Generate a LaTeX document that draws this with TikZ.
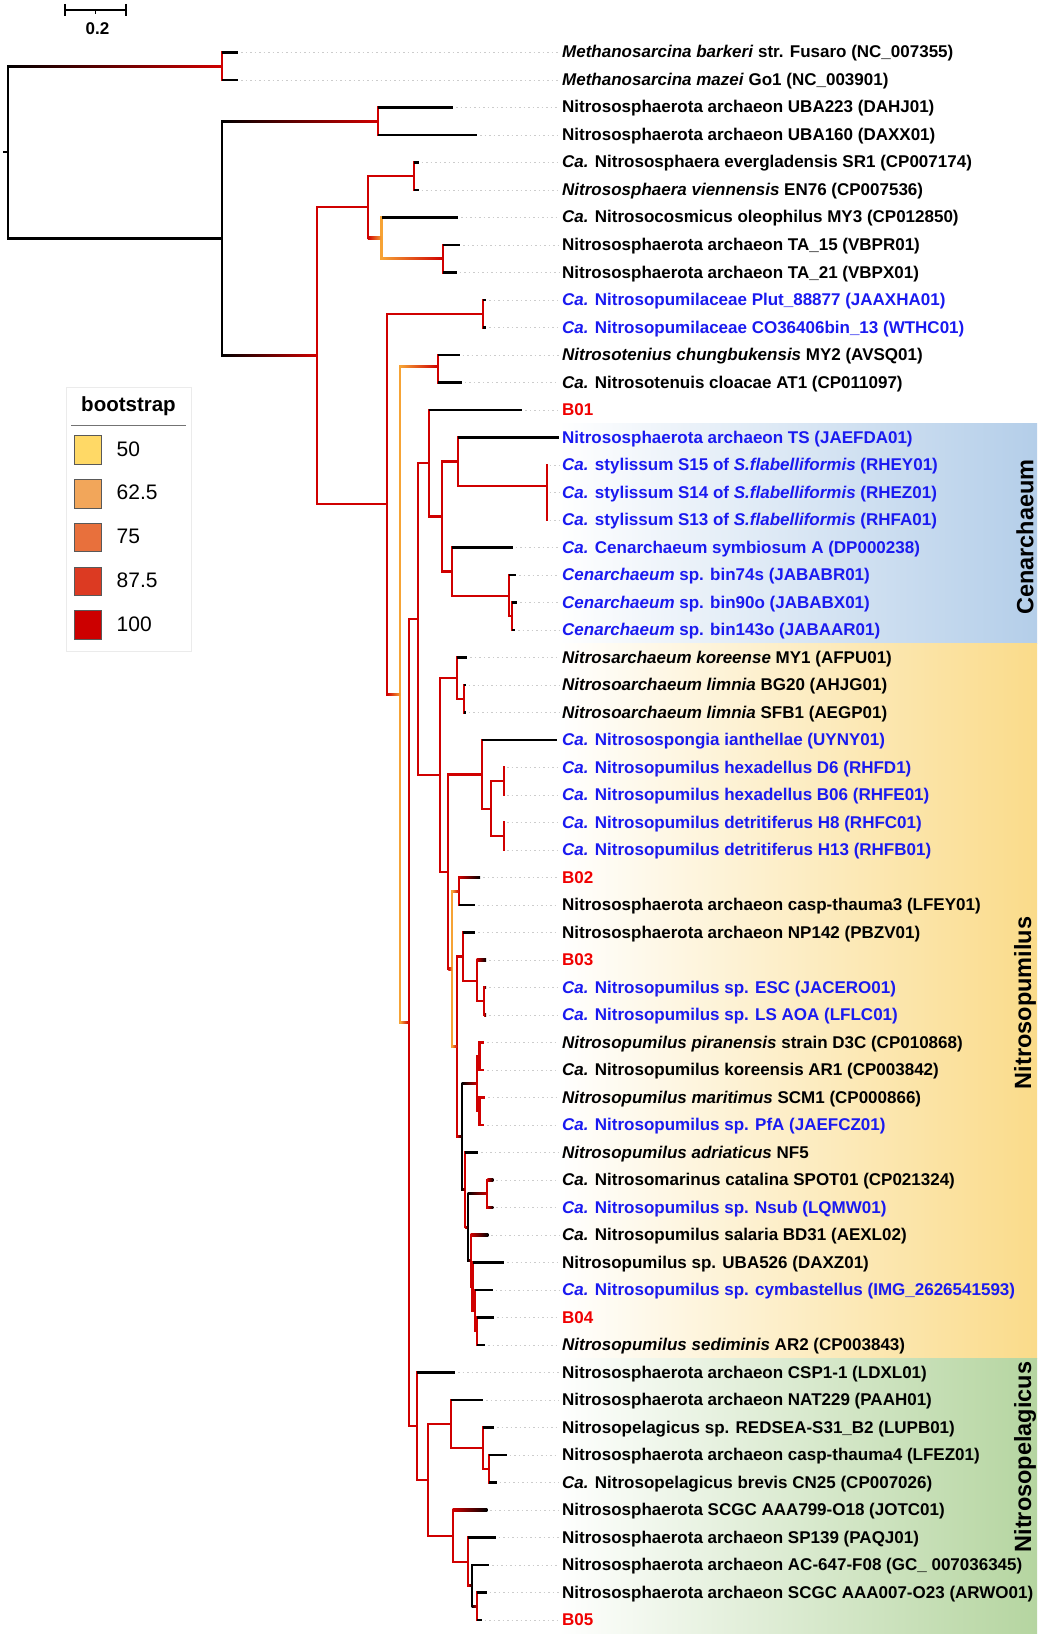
\documentclass[tikz,border=0pt]{standalone}
\usepackage{fontspec}
\setmainfont{Liberation Sans}
\usetikzlibrary{calc}
\definecolor{brred}{HTML}{D00000}
\definecolor{bror}{HTML}{F6A335}
\definecolor{lb}{HTML}{1A1AF0}
\definecolor{lr}{HTML}{F00000}
\definecolor{c50}{HTML}{FFD966}
\definecolor{c62}{HTML}{F2A65A}
\definecolor{c75}{HTML}{E8703C}
\definecolor{c87}{HTML}{DC3A22}
\definecolor{c100}{HTML}{CC0000}
\definecolor{cenR}{HTML}{B4CEE9}
\definecolor{pumR}{HTML}{FADB8A}
\definecolor{pelR}{HTML}{B5D5A0}
\newcommand\vv[4]{\draw[br,#4] (#1|-#2) -- (#1|-#3);}
\newcommand\hs[3]{\fill[#3] ($(#1|-#2)+(0,-1.1)$) rectangle ($(#2)+(0,1.1)$);}
\newcommand\hg[4]{\shade[left color=#3,right color=#4] ($(#1|-#2)+(0,-1.1)$) rectangle ($(#2)+(0,1.1)$);}
\newcommand\leaf[3]{\node[lab,text=#2] (L#1) at (t#1 -| xlab) {#3};}
\begin{document}
\begin{tikzpicture}[x=1pt,y=-1pt,
  br/.style={line width=2.2pt,line cap=rect},
  lab/.style={font=\bfseries\fontsize{17}{20}\selectfont,inner sep=0pt,anchor=west,text height=12.4pt,text depth=3.6pt,yshift=-1.1pt},
  guide/.style={black!20,line width=0.9pt,dash pattern=on 1.5pt off 3pt},
  swatch/.style={draw=black!65,line width=0.8pt,minimum width=27.5pt,minimum height=28.5pt,inner sep=0pt},
  leglab/.style={font=\fontsize{21}{24}\selectfont,anchor=west,inner sep=0pt},
  cladelab/.style={rotate=90,font=\bfseries\fontsize{23.5}{27}\selectfont,inner sep=0pt}]
\useasboundingbox (0,0) rectangle (1040,1637);
\fill[white] (0,0) rectangle (1040,1637);

% clade highlights
\shade[left color=white,right color=cenR] (558,423.75) rectangle (1037,643.75);
\shade[left color=white,right color=pumR] (558,643.75) rectangle (1037,1358.75);
\shade[left color=white,right color=pelR] (558,1358.75) rectangle (1037,1633.75);
\node[cladelab] (cCen) at (1025,537) {Cenarchaeum};
\node[cladelab] (cPum) at (1025,1003) {Nitrosopumilus};
\node[cladelab] (cPel) at (1025,1457) {Nitrosopelagicus};

% coordinates
\coordinate (xlab) at (562,0);
\coordinate (gx) at (559,0);
\foreach \i/\x in {1/238,2/238,3/453,4/477,5/418.5,6/418.5,7/458,8/460,9/456.7,10/486.3,
  11/486.3,12/459.5,13/461.9,14/522.3,15/559.3,16/546.7,17/546.7,18/546.7,19/512.7,20/516,
  21/517.3,22/515,23/467.3,24/465.5,25/465.5,26/556.7,27/504,28/504,29/504,30/504,
  31/480,32/475,33/475,34/486,35/486,36/486,37/484,38/484.3,39/485,40/484,
  41/478,42/493.3,43/493.3,44/488.3,45/504,46/492.7,47/494,48/485,49/455,50/483.3,
  51/494,52/506.7,53/496.7,54/487.3,55/495.7,56/489,57/486.7,58/481.7}
  {\coordinate (t\i) at (\x,{52.5+(\i-1)*27.5});}
\coordinate (R0) at (3,152.35);
\coordinate (R) at (8.1,152.35);
\coordinate (MS) at (222,66.25);
\coordinate (B) at (222,238.45);
\coordinate (UBA) at (378,121.25);
\coordinate (M1) at (316.7,355.65);
\coordinate (NS) at (367.8,207.2);
\coordinate (EV) at (413.7,176.25);
\coordinate (OL) at (381.5,238.1);
\coordinate (TA) at (443.3,258.75);
\coordinate (NP) at (387,504.1);
\coordinate (PL) at (483.3,313.75);
\coordinate (N2) at (400.3,694.45);
\coordinate (TE) at (438,366.25);
\coordinate (N3) at (408.7,1022.65);
\coordinate (N4) at (417.7,619.1);
\coordinate (N5) at (429.3,463.28);
\coordinate (N6) at (442.3,516.56);
\coordinate (N7) at (458.3,461.56);
\coordinate (S) at (546.7,485.6);
\coordinate (N8) at (451.7,571.56);
\coordinate (N9) at (509,595.6);
\coordinate (N9b) at (512.3,616.25);
\coordinate (N10) at (440,774.9);
\coordinate (N11) at (457.3,678.1);
\coordinate (LI) at (464.3,698.75);
\coordinate (N12) at (448.3,871.7);
\coordinate (N13) at (481.7,774.4);
\coordinate (HD) at (491,808.75);
\coordinate (HA) at (504,781.25);
\coordinate (HB) at (504,836.25);
\coordinate (N14) at (452,968.97);
\coordinate (BB) at (459,891.25);
\coordinate (N15) at (457.3,1046.7);
\coordinate (N16) at (463,956.56);
\coordinate (N17) at (476.7,980.6);
\coordinate (EL) at (484,1001.25);
\coordinate (N18) at (461.7,1136.8);
\coordinate (N19) at (476.7,1083.75);
\coordinate (K1) at (479.5,1056.25);
\coordinate (K2) at (479.5,1111.25);
\coordinate (P1) at (465,1189.88);
\coordinate (P2) at (467.7,1227.27);
\coordinate (CN) at (487.3,1193.75);
\coordinate (P3) at (470.7,1260.78);
\coordinate (P3b) at (472.5,1286.56);
\coordinate (P4) at (475,1310.63);
\coordinate (P5) at (477.3,1331.25);
\coordinate (NPel) at (417.3,1426.2);
\coordinate (Q1) at (428.3,1479.9);
\coordinate (Q2) at (451,1424.06);
\coordinate (Q3) at (483.3,1448.1);
\coordinate (Q4) at (489,1468.75);
\coordinate (Q5) at (452.7,1535.8);
\coordinate (Q6) at (468.3,1561.6);
\coordinate (Q7) at (471.7,1585.6);
\coordinate (Q8) at (476.7,1606.25);

% dotted guides
\foreach \i in {1,...,14,16,17,...,25,27,28,...,58}
  {\draw[guide] ([xshift=3pt]t\i) -- (t\i -| gx);}

% vertical segments
\vv{R}{MS}{B}{black}
\vv{MS}{t1}{t2}{brred}
\vv{B}{UBA}{M1}{black}
\vv{UBA}{t3}{t4}{brred}
\vv{M1}{NS}{NP}{brred}
\vv{NS}{EV}{OL}{brred}
\vv{EV}{t5}{t6}{brred}
\vv{OL}{t7}{TA}{bror}
\vv{TA}{t8}{t9}{brred}
\vv{NP}{PL}{N2}{brred}
\vv{PL}{t10}{t11}{brred}
\vv{N2}{TE}{N3}{bror}
\vv{TE}{t12}{t13}{brred}
\vv{N3}{N4}{NPel}{brred}
\vv{N4}{N5}{N10}{brred}
\vv{N5}{t14}{N6}{brred}
\vv{N6}{N7}{N8}{brred}
\vv{N7}{t15}{S}{brred}
\vv{S}{t16}{t18}{brred}
\vv{N8}{t19}{N9}{brred}
\vv{N9}{t20}{N9b}{brred}
\vv{N9b}{t21}{t22}{brred}
\vv{N10}{N11}{N12}{brred}
\vv{N11}{t23}{LI}{brred}
\vv{LI}{t24}{t25}{brred}
\vv{N12}{N13}{N14}{brred}
\vv{N13}{t26}{HD}{brred}
\vv{HD}{HA}{HB}{brred}
\vv{HA}{t27}{t28}{brred}
\vv{HB}{t29}{t30}{brred}
\vv{N14}{BB}{N15}{bror}
\vv{BB}{t31}{t32}{brred}
\vv{N15}{N16}{N18}{brred}
\vv{N16}{t33}{N17}{brred}
\vv{N17}{t34}{EL}{brred}
\vv{EL}{t35}{t36}{brred}
\vv{N18}{N19}{P1}{black}
\vv{N19}{K1}{K2}{brred}
\vv{K1}{t37}{t38}{brred}
\vv{K2}{t39}{t40}{brred}
\vv{P1}{t41}{P2}{brred}
\vv{P2}{CN}{P3}{black}
\vv{CN}{t42}{t43}{brred}
\vv{P3}{t44}{P3b}{brred}
\vv{P3b}{t45}{P4}{brred}
\vv{P4}{t46}{P5}{brred}
\vv{P5}{t47}{t48}{brred}
\vv{NPel}{t49}{Q1}{brred}
\vv{Q1}{Q2}{Q5}{brred}
\vv{Q2}{t50}{Q3}{brred}
\vv{Q3}{t51}{Q4}{brred}
\vv{Q4}{t52}{t53}{brred}
\vv{Q5}{t54}{Q6}{brred}
\vv{Q6}{t55}{Q7}{brred}
\vv{Q7}{t56}{Q8}{black}
\vv{Q8}{t57}{t58}{brred}

% horizontal segments
\draw[line width=2.2pt] (R0) -- (R);
\hg{R}{MS}{black}{brred}
\hs{R}{B}{black}
\hg{B}{UBA}{black}{brred}
\hg{B}{M1}{black}{brred}
\hs{MS}{t1}{black} \hs{MS}{t2}{black}
\hs{UBA}{t3}{black} \hs{UBA}{t4}{black}
\hs{M1}{NS}{brred} \hs{M1}{NP}{brred}
\hs{NS}{EV}{brred} \hg{NS}{OL}{brred}{bror}
\hs{EV}{t5}{black} \hs{EV}{t6}{black}
\hs{OL}{t7}{black} \hg{OL}{TA}{bror}{brred}
\hs{TA}{t8}{black} \hs{TA}{t9}{black}
\hs{NP}{PL}{brred} \hg{NP}{N2}{brred}{bror}
\hs{PL}{t10}{black} \hs{PL}{t11}{black}
\hg{N2}{TE}{bror}{brred} \hg{N2}{N3}{bror}{brred}
\hs{TE}{t12}{black} \hs{TE}{t13}{black}
\hs{N3}{N4}{brred} \hs{N3}{NPel}{brred}
\hs{N4}{N5}{brred} \hs{N4}{N10}{brred}
\hs{N5}{t14}{black} \hs{N5}{N6}{brred}
\hs{N6}{N7}{brred} \hs{N6}{N8}{brred}
\hs{N7}{t15}{black} \hs{N7}{S}{brred}
\hs{N8}{t19}{black} \hs{N8}{N9}{brred}
\hs{N9}{t20}{black} \hs{N9}{N9b}{brred}
\hs{N9b}{t21}{black} \hs{N9b}{t22}{black}
\hs{N10}{N11}{brred} \hs{N10}{N12}{brred}
\hs{N11}{t23}{black} \hs{N11}{LI}{brred}
\hs{LI}{t24}{black} \hs{LI}{t25}{black}
\hs{N12}{N13}{brred} \hg{N12}{N14}{brred}{bror}
\hs{N13}{t26}{black} \hs{N13}{HD}{brred}
\hs{HD}{HA}{brred} \hs{HD}{HB}{brred}
\hg{N14}{BB}{bror}{brred} \hg{N14}{N15}{bror}{brred}
\hg{BB}{t31}{brred}{black} \hs{BB}{t32}{black}
\hs{N15}{N16}{brred} \hg{N15}{N18}{brred}{black}
\hs{N16}{t33}{black} \hs{N16}{N17}{brred}
\hg{N17}{t34}{brred}{black} \hs{N17}{EL}{brred}
\hg{EL}{t35}{brred}{black} \hg{EL}{t36}{brred}{black}
\hg{N18}{N19}{black}{brred} \hg{N18}{P1}{black}{brred}
\hs{N19}{K1}{brred} \hs{N19}{K2}{brred}
\hs{K1}{t37}{brred} \hs{K1}{t38}{brred}
\hs{K2}{t39}{brred} \hs{K2}{t40}{brred}
\hs{P1}{t41}{black} \hg{P1}{P2}{brred}{black}
\hg{P2}{CN}{black}{brred} \hg{P2}{P3}{black}{brred}
\hg{CN}{t42}{brred}{black} \hg{CN}{t43}{brred}{black}
\hg{P3}{t44}{brred}{black} \hs{P3}{P3b}{brred}
\hs{P3b}{t45}{black} \hs{P3b}{P4}{brred}
\hs{P4}{t46}{black} \hs{P4}{P5}{brred}
\hs{P5}{t47}{black} \hs{P5}{t48}{black}
\hs{NPel}{t49}{black} \hs{NPel}{Q1}{brred}
\hs{Q1}{Q2}{brred} \hs{Q1}{Q5}{brred}
\hs{Q2}{t50}{black} \hs{Q2}{Q3}{brred}
\hs{Q3}{t51}{black} \hs{Q3}{Q4}{brred}
\hs{Q4}{t52}{black} \hs{Q4}{t53}{black}
\hg{Q5}{t54}{brred}{black} \hs{Q5}{Q6}{brred}
\hs{Q6}{t55}{black} \hg{Q6}{Q7}{brred}{black}
\hs{Q7}{t56}{black} \hg{Q7}{Q8}{black}{brred}
\hs{Q8}{t57}{black} \hs{Q8}{t58}{black}

% leaf labels
\leaf{1}{black}{\textit{Methanosarcina barkeri} str. Fusaro (NC\_007355)}
\leaf{2}{black}{\textit{Methanosarcina mazei} Go1 (NC\_003901)}
\leaf{3}{black}{Nitrososphaerota archaeon UBA223 (DAHJ01)}
\leaf{4}{black}{Nitrososphaerota archaeon UBA160 (DAXX01)}
\leaf{5}{black}{\textit{Ca.} Nitrososphaera evergladensis SR1 (CP007174)}
\leaf{6}{black}{\textit{Nitrososphaera viennensis} EN76 (CP007536)}
\leaf{7}{black}{\textit{Ca.} Nitrosocosmicus oleophilus MY3 (CP012850)}
\leaf{8}{black}{Nitrososphaerota archaeon TA\_15 (VBPR01)}
\leaf{9}{black}{Nitrososphaerota archaeon TA\_21 (VBPX01)}
\leaf{10}{lb}{\textit{Ca.} Nitrosopumilaceae Plut\_88877 (JAAXHA01)}
\leaf{11}{lb}{\textit{Ca.} Nitrosopumilaceae CO36406bin\_13 (WTHC01)}
\leaf{12}{black}{\textit{Nitrosotenius chungbukensis} MY2 (AVSQ01)}
\leaf{13}{black}{\textit{Ca.} Nitrosotenuis cloacae AT1 (CP011097)}
\leaf{14}{lr}{B01}
\leaf{15}{lb}{Nitrososphaerota archaeon TS (JAEFDA01)}
\leaf{16}{lb}{\textit{Ca.} stylissum S15 of \textit{S.flabelliformis} (RHEY01)}
\leaf{17}{lb}{\textit{Ca.} stylissum S14 of \textit{S.flabelliformis} (RHEZ01)}
\leaf{18}{lb}{\textit{Ca.} stylissum S13 of \textit{S.flabelliformis} (RHFA01)}
\leaf{19}{lb}{\textit{Ca.} Cenarchaeum symbiosum A (DP000238)}
\leaf{20}{lb}{\textit{Cenarchaeum} sp. bin74s (JABABR01)}
\leaf{21}{lb}{\textit{Cenarchaeum} sp. bin90o (JABABX01)}
\leaf{22}{lb}{\textit{Cenarchaeum} sp. bin143o (JABAAR01)}
\leaf{23}{black}{\textit{Nitrosarchaeum koreense} MY1 (AFPU01)}
\leaf{24}{black}{\textit{Nitrosoarchaeum limnia} BG20 (AHJG01)}
\leaf{25}{black}{\textit{Nitrosoarchaeum limnia} SFB1 (AEGP01)}
\leaf{26}{lb}{\textit{Ca.} Nitrosospongia ianthellae (UYNY01)}
\leaf{27}{lb}{\textit{Ca.} Nitrosopumilus hexadellus D6 (RHFD1)}
\leaf{28}{lb}{\textit{Ca.} Nitrosopumilus hexadellus B06 (RHFE01)}
\leaf{29}{lb}{\textit{Ca.} Nitrosopumilus detritiferus H8 (RHFC01)}
\leaf{30}{lb}{\textit{Ca.} Nitrosopumilus detritiferus H13 (RHFB01)}
\leaf{31}{lr}{B02}
\leaf{32}{black}{Nitrososphaerota archaeon casp-thauma3 (LFEY01)}
\leaf{33}{black}{Nitrososphaerota archaeon NP142 (PBZV01)}
\leaf{34}{lr}{B03}
\leaf{35}{lb}{\textit{Ca.} Nitrosopumilus sp. ESC (JACERO01)}
\leaf{36}{lb}{\textit{Ca.} Nitrosopumilus sp. LS AOA (LFLC01)}
\leaf{37}{black}{\textit{Nitrosopumilus piranensis} strain D3C (CP010868)}
\leaf{38}{black}{\textit{Ca.} Nitrosopumilus koreensis AR1 (CP003842)}
\leaf{39}{black}{\textit{Nitrosopumilus maritimus} SCM1 (CP000866)}
\leaf{40}{lb}{\textit{Ca.} Nitrosopumilus sp. PfA (JAEFCZ01)}
\leaf{41}{black}{\textit{Nitrosopumilus adriaticus} NF5}
\leaf{42}{black}{\textit{Ca.} Nitrosomarinus catalina SPOT01 (CP021324)}
\leaf{43}{lb}{\textit{Ca.} Nitrosopumilus sp. Nsub (LQMW01)}
\leaf{44}{black}{\textit{Ca.} Nitrosopumilus salaria BD31 (AEXL02)}
\leaf{45}{black}{Nitrosopumilus sp. UBA526 (DAXZ01)}
\leaf{46}{lb}{\textit{Ca.} Nitrosopumilus sp. cymbastellus (IMG\_2626541593)}
\leaf{47}{lr}{B04}
\leaf{48}{black}{\textit{Nitrosopumilus sediminis} AR2 (CP003843)}
\leaf{49}{black}{Nitrososphaerota archaeon CSP1-1 (LDXL01)}
\leaf{50}{black}{Nitrososphaerota archaeon NAT229 (PAAH01)}
\leaf{51}{black}{Nitrosopelagicus sp. REDSEA-S31\_B2 (LUPB01)}
\leaf{52}{black}{Nitrososphaerota archaeon casp-thauma4 (LFEZ01)}
\leaf{53}{black}{\textit{Ca.} Nitrosopelagicus brevis CN25 (CP007026)}
\leaf{54}{black}{Nitrososphaerota SCGC AAA799-O18 (JOTC01)}
\leaf{55}{black}{Nitrososphaerota archaeon SP139 (PAQJ01)}
\leaf{56}{black}{Nitrososphaerota archaeon AC-647-F08 (GC\_ 007036345)}
\leaf{57}{black}{Nitrososphaerota archaeon SCGC AAA007-O23 (ARWO01)}
\leaf{58}{lr}{B05}

% legend
\node[draw=black!8,fill=white,line width=0.8pt,minimum width=125pt,minimum height=264pt,inner sep=0pt] (legbox) at (128.5,519) {};
\node[font=\bfseries\fontsize{20.5}{24}\selectfont,inner sep=0pt] (legtitle) at (128.5,406) {bootstrap};
\coordinate (ulA) at (71,425);
\coordinate (ulB) at (186,425);
\draw[black!55,line width=1pt] (ulA) -- (ulB);
\node[swatch,fill=c50] (sw1) at (88,450) {};
\node[swatch,fill=c62] (sw2) at (88,493.75) {};
\node[swatch,fill=c75] (sw3) at (88,537.5) {};
\node[swatch,fill=c87] (sw4) at (88,581.25) {};
\node[swatch,fill=c100] (sw5) at (88,625) {};
\node[leglab] (sl1) at (116.5,449) {50};
\node[leglab] (sl2) at (116.5,492.75) {62.5};
\node[leglab] (sl3) at (116.5,536.5) {75};
\node[leglab] (sl4) at (116.5,580.25) {87.5};
\node[leglab] (sl5) at (116.5,624) {100};

% scale bar
\coordinate (sbA) at (64.7,10);
\coordinate (sbB) at (126.3,10);
\coordinate (sbM) at (95.5,10);
\draw[line width=2pt] (sbA) -- (sbB);
\draw[line width=2pt] ([yshift=6pt]sbA) -- ([yshift=-6pt]sbA);
\draw[line width=2pt] ([yshift=6pt]sbB) -- ([yshift=-6pt]sbB);
\draw[line width=1.5pt] (sbM) -- ([yshift=-4pt]sbM);
\node[font=\bfseries\fontsize{17}{20}\selectfont,inner sep=0pt] (sbl) at (97.5,29) {0.2};
\end{tikzpicture}
\end{document}
